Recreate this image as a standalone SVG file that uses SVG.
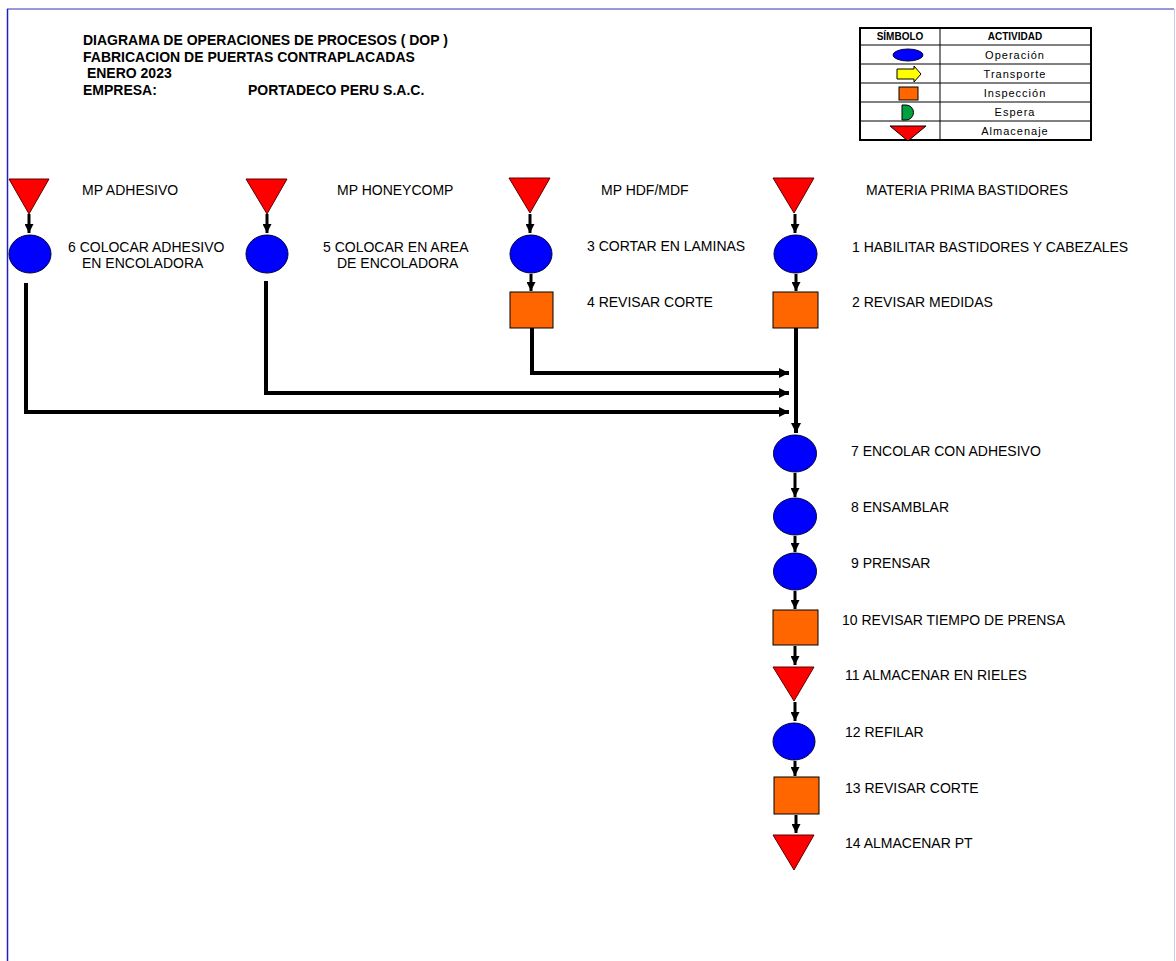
<svg xmlns="http://www.w3.org/2000/svg" width="1176" height="961" viewBox="0 0 1176 961">
<style>
text{font-family:"Liberation Sans",Arial,sans-serif;fill:#000}
.h{font-size:14px;font-weight:bold}
.l{font-size:14px}
.lh{font-size:10px;font-weight:bold}
.lt{font-size:11px;letter-spacing:1px}
.tri{fill:#ff0000;stroke:#600000;stroke-width:1}
.op{fill:#0000ff;stroke:#000040;stroke-width:1}
.in{fill:#ff6600;stroke:#000;stroke-width:1}
.c{stroke:#000;fill:none;stroke-width:3}
.cl{stroke:#000;fill:none;stroke-width:4}
</style>
<defs>
<marker id="ah" viewBox="0 0 10 10" refX="10" refY="5" markerWidth="9" markerHeight="9" markerUnits="userSpaceOnUse" orient="auto"><path d="M0,0 L10,5 L0,10 z" fill="#000"/></marker>
<marker id="ahl" viewBox="0 0 10 10" refX="10" refY="5" markerWidth="10" markerHeight="10" markerUnits="userSpaceOnUse" orient="auto"><path d="M0,0 L10,5 L0,10 z" fill="#000"/></marker>
</defs>
<rect width="1176" height="961" fill="#fff"/>
<line x1="7" y1="9" x2="1174" y2="9" stroke="#3030c0" stroke-width="1"/>
<line x1="7.5" y1="9" x2="7.5" y2="961" stroke="#2020c0" stroke-width="1.5"/>
<line x1="1174.5" y1="9" x2="1174.5" y2="961" stroke="#c8c8f0" stroke-width="1"/>

<g id="header">
<text class="h" x="83" y="45">DIAGRAMA DE OPERACIONES DE PROCESOS ( DOP )</text>
<text class="h" x="83" y="62">FABRICACION DE PUERTAS CONTRAPLACADAS</text>
<text class="h" x="83" y="78" xml:space="preserve"> ENERO 2023</text>
<text class="h" x="83" y="95">EMPRESA:</text>
<text class="h" x="248" y="95">PORTADECO PERU S.A.C.</text>
</g>

<g id="legend">
<rect x="860" y="28" width="231" height="112" fill="#fff" stroke="#000" stroke-width="2"/>
<line x1="940" y1="28" x2="940" y2="140" stroke="#000" stroke-width="1"/>
<g stroke="#000" stroke-width="1">
<line x1="860" y1="45" x2="1091" y2="45"/>
<line x1="860" y1="64" x2="1091" y2="64"/>
<line x1="860" y1="83" x2="1091" y2="83"/>
<line x1="860" y1="102" x2="1091" y2="102"/>
<line x1="860" y1="121" x2="1091" y2="121"/>
</g>
<text class="lh" x="900" y="40" text-anchor="middle">SÍMBOLO</text>
<text class="lh" x="1015" y="40" text-anchor="middle">ACTIVIDAD</text>
<ellipse class="op" cx="908" cy="55" rx="15" ry="6"/>
<path d="M897,69 H914 V66 L921,74 L914,82 V79 H897 Z" fill="#ffff00" stroke="#000" stroke-width="1"/>
<rect class="in" x="899" y="87" width="19" height="13"/>
<path d="M902,105 H906 A7.5,7.5 0 0 1 906,120 H902 Z" fill="#00a040" stroke="#000" stroke-width="1"/>
<path d="M890,126 L926,126 L908,141 Z" fill="#ff0000" stroke="#000" stroke-width="1"/>
<text class="lt" x="1015" y="59" text-anchor="middle">Operación</text>
<text class="lt" x="1015" y="78" text-anchor="middle">Transporte</text>
<text class="lt" x="1015" y="97" text-anchor="middle">Inspección</text>
<text class="lt" x="1015" y="116" text-anchor="middle">Espera</text>
<text class="lt" x="1015" y="135" text-anchor="middle">Almacenaje</text>
</g>

<g id="connectors">
<line class="c" x1="29" y1="214" x2="29" y2="233" marker-end="url(#ah)"/>
<line class="c" x1="267" y1="214" x2="267" y2="233" marker-end="url(#ah)"/>
<line class="c" x1="530" y1="214" x2="530" y2="233" marker-end="url(#ah)"/>
<line class="c" x1="795" y1="214" x2="795" y2="233" marker-end="url(#ah)"/>
<line class="c" x1="531" y1="274" x2="531" y2="291" marker-end="url(#ah)"/>
<line class="c" x1="796" y1="274" x2="796" y2="291" marker-end="url(#ah)"/>
<polyline class="cl" points="532,328 532,373 789,373" marker-end="url(#ahl)"/>
<polyline class="cl" points="266,281 266,393 789,393" marker-end="url(#ahl)"/>
<polyline class="cl" points="26,283 26,412 789,412" marker-end="url(#ahl)"/>
<line class="cl" x1="796" y1="328" x2="796" y2="433" marker-end="url(#ahl)"/>
<line class="c" x1="795" y1="473" x2="795" y2="497" marker-end="url(#ah)"/>
<line class="c" x1="795" y1="536" x2="795" y2="552" marker-end="url(#ah)"/>
<line class="c" x1="795" y1="591" x2="795" y2="609" marker-end="url(#ah)"/>
<line class="c" x1="795" y1="646" x2="795" y2="665" marker-end="url(#ah)"/>
<line class="c" x1="795" y1="702" x2="795" y2="721" marker-end="url(#ah)"/>
<line class="c" x1="795" y1="761" x2="795" y2="776" marker-end="url(#ah)"/>
<line class="c" x1="796" y1="815" x2="796" y2="833" marker-end="url(#ah)"/>
</g>

<g id="mp-adhesivo"><path class="tri" d="M9,179 L49,179 L29,214 Z"/><text class="l" x="82" y="195">MP ADHESIVO</text></g>
<g id="op6"><ellipse class="op" cx="30" cy="254" rx="21" ry="19"/><text class="l" x="68" y="252">6 COLOCAR ADHESIVO</text><text class="l" x="82" y="268">EN ENCOLADORA</text></g>

<g id="mp-honeycomp"><path class="tri" d="M246,179 L287,179 L267,214 Z"/><text class="l" x="337" y="195">MP HONEYCOMP</text></g>
<g id="op5"><ellipse class="op" cx="267" cy="254" rx="21" ry="19"/><text class="l" x="323" y="252">5 COLOCAR EN AREA</text><text class="l" x="337" y="268">DE ENCOLADORA</text></g>

<g id="mp-hdf"><path class="tri" d="M509,178 L550,178 L530,213 Z"/><text class="l" x="601" y="195">MP HDF/MDF</text></g>
<g id="op3"><ellipse class="op" cx="531" cy="254" rx="21" ry="19"/><text class="l" x="587" y="251">3 CORTAR EN LAMINAS</text></g>
<g id="in4"><rect class="in" x="510" y="292" width="43" height="36"/><text class="l" x="587" y="307">4 REVISAR CORTE</text></g>

<g id="mp-bastidores"><path class="tri" d="M773,178 L814,178 L794,213 Z"/><text class="l" x="866" y="195">MATERIA PRIMA BASTIDORES</text></g>
<g id="op1"><ellipse class="op" cx="795.5" cy="254" rx="21.5" ry="19"/><text class="l" x="852" y="252">1 HABILITAR BASTIDORES Y CABEZALES</text></g>
<g id="in2"><rect class="in" x="773" y="292" width="45" height="36"/><text class="l" x="852" y="307">2 REVISAR MEDIDAS</text></g>

<g id="op7"><ellipse class="op" cx="795" cy="453.5" rx="21.5" ry="18.5"/><text class="l" x="851" y="456">7 ENCOLAR CON ADHESIVO</text></g>
<g id="op8"><ellipse class="op" cx="795" cy="516.5" rx="21.5" ry="18.5"/><text class="l" x="851" y="512">8 ENSAMBLAR</text></g>
<g id="op9"><ellipse class="op" cx="795" cy="571.5" rx="21.5" ry="18.5"/><text class="l" x="851" y="568">9 PRENSAR</text></g>
<g id="in10"><rect class="in" x="773" y="610" width="45" height="35"/><text class="l" x="842" y="625">10 REVISAR TIEMPO DE PRENSA</text></g>
<g id="alm11"><path class="tri" d="M773,667 L814,667 L794,701 Z"/><text class="l" x="845" y="680">11 ALMACENAR EN RIELES</text></g>
<g id="op12"><ellipse class="op" cx="794" cy="741.5" rx="21" ry="18.5"/><text class="l" x="845" y="737">12 REFILAR</text></g>
<g id="in13"><rect class="in" x="774" y="777" width="45" height="37"/><text class="l" x="845" y="793">13 REVISAR CORTE</text></g>
<g id="alm14"><path class="tri" d="M773,835 L814,835 L794,870 Z"/><text class="l" x="845" y="848">14 ALMACENAR PT</text></g>
</svg>
